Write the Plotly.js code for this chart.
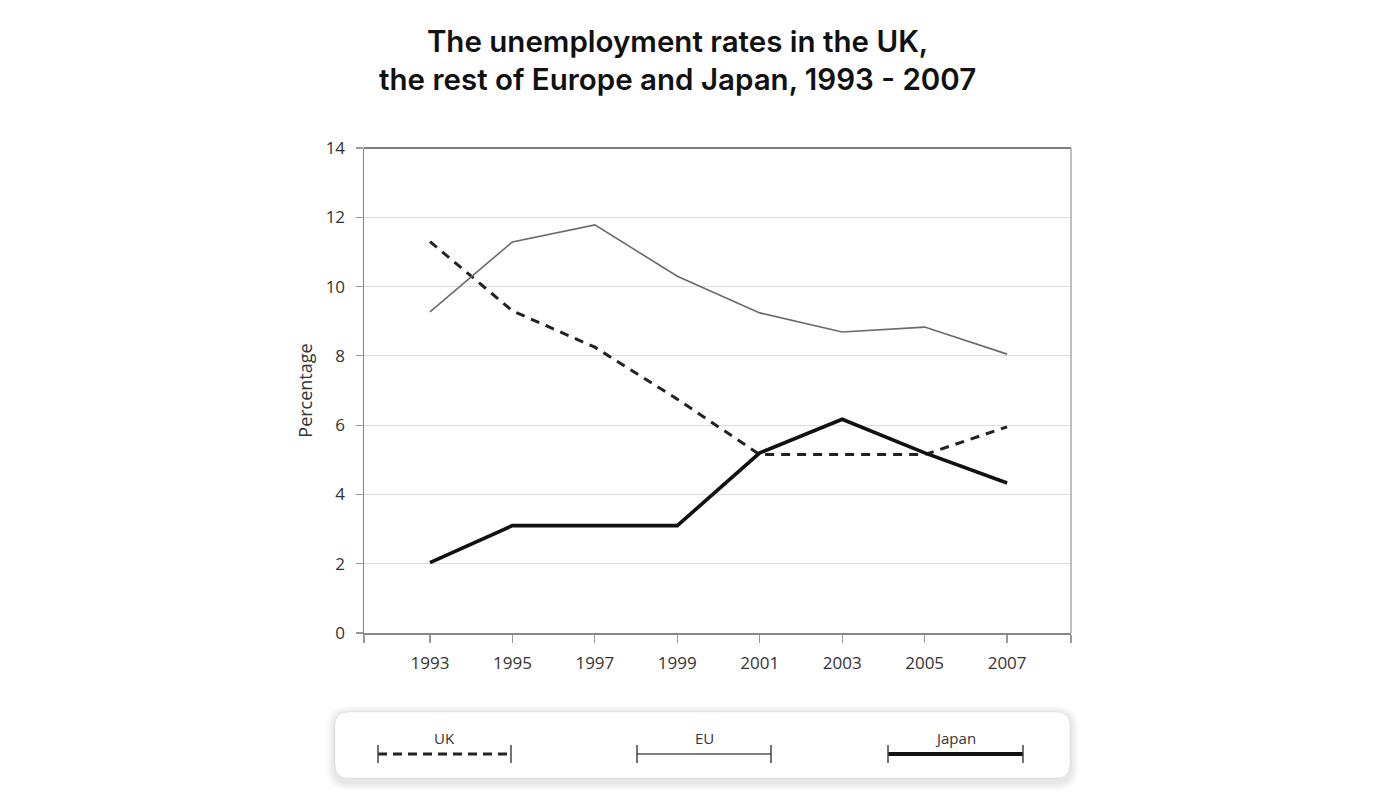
<!DOCTYPE html>
<html>
<head>
<meta charset="utf-8">
<script src="https://cdn.plot.ly/plotly-3.0.1.min.js"></script>
<style>html,body{margin:0;padding:0;background:#fff;}#chart{width:1400px;height:800px;}</style>
</head>
<body>
<div id="chart"></div>
<script>
const years = [1993, 1995, 1997, 1999, 2001, 2003, 2005, 2007];
const ukValues = [11.3, 9.3, 8.25, 6.75, 5.15, 5.15, 5.15, 5.95];
const euValues = [9.27, 11.29, 11.78, 10.3, 9.24, 8.69, 8.83, 8.05];
const japanValues = [2.03, 3.1, 3.1, 3.1, 5.2, 6.17, 5.2, 4.33];
const seriesNames = ['UK', 'EU', 'Japan'];
const xTickVals = [1991.4, 1993, 1995, 1997, 1999, 2001, 2003, 2005, 2007, 2008.55];
const xTickText = ['', '1993', '1995', '1997', '1999', '2001', '2003', '2005', '2007', ''];
const yTickVals = [0, 2, 4, 6, 8, 10, 12, 14];

const FONT = '"Open Sans", "DejaVu Sans", sans-serif';
const TITLE_FONT = 'Inter, "Open Sans", sans-serif';

const traces = [
  {x: years, y: ukValues, name: seriesNames[0], mode: 'lines',
   line: {color: '#222', width: 3, dash: '9px,7px'}},
  {x: years, y: euValues, name: seriesNames[1], mode: 'lines',
   line: {color: '#6a6a6a', width: 1.6}},
  {x: years, y: japanValues, name: seriesNames[2], mode: 'lines',
   line: {color: '#111', width: 3.6}}
];

function roundRect(x0, y0, x1, y1, r) {
  return `M${x0 + r},${y1} L${x1 - r},${y1} Q${x1},${y1} ${x1},${y1 - r} L${x1},${y0 + r} Q${x1},${y0} ${x1 - r},${y0} L${x0 + r},${y0} Q${x0},${y0} ${x0},${y0 + r} L${x0},${y1 - r} Q${x0},${y1} ${x0 + r},${y1} Z`;
}

const shapes = [];
for (let i = 4; i >= 1; i--) {
  shapes.push({type: 'path', xref: 'paper', yref: 'paper', xsizemode: 'pixel', ysizemode: 'pixel',
    xanchor: 0, yanchor: 0, layer: 'below',
    path: roundRect(-29 - i * 2, -147 - i * 2 - 2, 706 + i * 2, -79 + i * 2 - 2, 14 + i * 2),
    fillcolor: 'rgba(0,0,0,0.025)', line: {width: 0}});
}
shapes.push({type: 'path', xref: 'paper', yref: 'paper', xsizemode: 'pixel', ysizemode: 'pixel',
  xanchor: 0, yanchor: 0, layer: 'below',
  path: roundRect(-29, -145, 706, -79, 14),
  fillcolor: '#ffffff', line: {color: 'rgba(0,0,0,0.06)', width: 1}});

const legendItems = [
  {x0: 14, x1: 147, color: '#222', width: 3, dash: '9px,6px', label: seriesNames[0]},
  {x0: 273, x1: 407, color: '#555', width: 1.5, dash: 'solid', label: seriesNames[1]},
  {x0: 524, x1: 659, color: '#111', width: 4, dash: 'solid', label: seriesNames[2]}
];
const annotations = [];
legendItems.forEach(it => {
  const common = {type: 'line', xref: 'paper', yref: 'paper', xsizemode: 'pixel', ysizemode: 'pixel', xanchor: 0, yanchor: 0};
  shapes.push(Object.assign({}, common, {x0: it.x0, x1: it.x1, y0: -121, y1: -121, line: {color: it.color, width: it.width, dash: it.dash}}));
  shapes.push(Object.assign({}, common, {x0: it.x0, x1: it.x0, y0: -112, y1: -130, line: {color: '#444', width: 1.5}}));
  shapes.push(Object.assign({}, common, {x0: it.x1, x1: it.x1, y0: -112, y1: -130, line: {color: '#444', width: 1.5}}));
  annotations.push({xref: 'paper', yref: 'paper', x: 0, y: 0, xshift: (it.x0 + it.x1) / 2, yshift: -105,
    text: it.label, showarrow: false, xanchor: 'center', yanchor: 'middle',
    font: {family: FONT, size: 15, color: '#333'}});
});

const layout = {
  width: 1400, height: 800,
  paper_bgcolor: '#fff', plot_bgcolor: '#fff',
  margin: {l: 364, r: 329, t: 148, b: 167},
  showlegend: false,
  title: {text: 'The unemployment rates in the UK,<br>the rest of Europe and Japan, 1993 - 2007',
    x: 0.484, xanchor: 'center', y: 0.935, yanchor: 'top',
    font: {family: TITLE_FONT, size: 29.5, color: '#111', weight: 600}},
  xaxis: {range: [1991.4, 2008.55], tickvals: xTickVals, ticktext: xTickText,
    showgrid: false, zeroline: false, showline: true, linecolor: '#888', linewidth: 1.5,
    mirror: false, ticks: 'outside', ticklen: 8, tickcolor: '#999', tickwidth: 1.2,
    ticklabelstandoff: 6,
    tickfont: {family: FONT, size: 17, color: '#333'}, fixedrange: true},
  yaxis: {range: [0, 14], tickvals: yTickVals, showgrid: true, gridcolor: '#dedede', gridwidth: 1.2,
    zeroline: false, showline: true, linecolor: '#888', linewidth: 1.5, mirror: false,
    ticks: 'outside', ticklen: 7, tickcolor: '#999', tickwidth: 1.2,
    ticklabelstandoff: 7,
    tickfont: {family: FONT, size: 17, color: '#333'},
    title: {text: 'Percentage', font: {family: FONT, size: 18, color: '#333'}, standoff: 8},
    fixedrange: true},
  shapes: shapes.concat([
    {type: 'line', xref: 'paper', yref: 'paper', x0: 0, x1: 1, y0: 1, y1: 1, line: {color: '#555', width: 1.5}},
    {type: 'line', xref: 'paper', yref: 'paper', x0: 1, x1: 1, y0: 0, y1: 1, line: {color: '#aaa', width: 1.5}}
  ]),
  annotations: annotations
};

Plotly.newPlot('chart', traces, layout, {displayModeBar: false, staticPlot: true});
</script>
</body>
</html>
